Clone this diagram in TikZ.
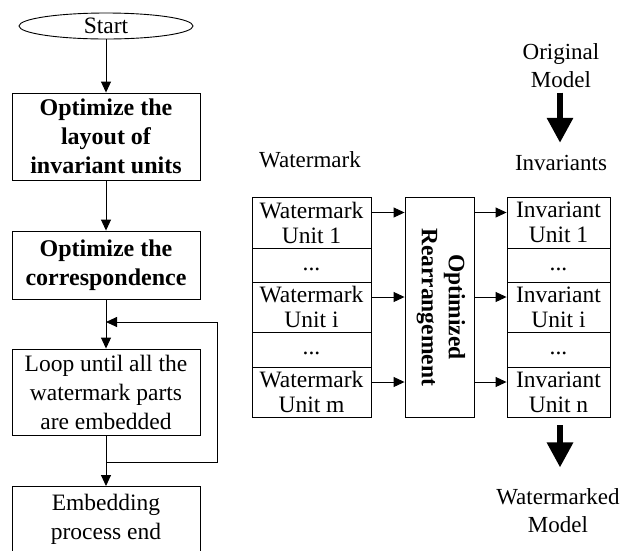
\documentclass[tikz,border=0pt]{standalone}
\usepackage{fontspec}
\setmainfont{Liberation Serif}
\usetikzlibrary{shapes.geometric,arrows.meta}
\begin{document}
\begin{tikzpicture}[x=1pt,y=-1pt,
  every node/.style={inner sep=0pt, font=\fontsize{23.5}{28.5}\selectfont},
  line width=0.9pt,
  arr/.style={-{Triangle[length=11pt,width=10pt]}},
  flowbox/.style={draw, minimum width=188pt, align=center},
  boldtext/.style={font=\fontsize{24}{29}\selectfont\bfseries},
  normtext/.style={font=\fontsize{23.5}{29}\selectfont},
  cell/.style={draw, align=center, font=\fontsize{23.5}{25}\selectfont},
  wcell/.style={cell, minimum width=119pt},
  icell/.style={cell, minimum width=103pt},
  bigarr/.style={line width=6pt, -{Triangle[length=25pt,width=25pt]}},
  lbl/.style={align=center, font=\fontsize{23}{28}\selectfont}
]
\useasboundingbox (0,0) rectangle (620,550);

% ---- left flowchart ----
\node[ellipse, draw, minimum width=174pt, minimum height=26pt] (start) at (106,26) {};
\node (starttext) at (start.center) {Start};

\node[flowbox, boldtext, minimum height=87pt] (b1) at (106,136.5) {Optimize the\\layout of\\invariant units};
\node[flowbox, boldtext, minimum height=68pt] (b2) at (106,265) {Optimize the\\correspondence};
\node[flowbox, normtext, minimum height=86pt] (b3) at (106,392) {Loop until all the\\watermark parts\\are embedded};
\node[flowbox, minimum height=90pt, anchor=north] (b4) at (106,486) {};
\node[align=center, normtext] (b4text) at (106,519) {Embedding\\process end};

\draw[arr] (start.south) -- (b1.north);
\draw[arr] (b1.south) -- (b2.north);
\draw[arr] (b2.south) -- (b3.north);
\coordinate (join) at (106,462);
\coordinate (loopR) at (217,462);
\coordinate (loopT) at (217,322);
\coordinate (loopIn) at (106,322);
\draw (b3.south) -- (join);
\draw[arr] (join) -- (b4.north);
\draw[arr] (join) -- (loopR) -- (loopT) -- (loopIn);

% ---- right diagram ----
\node[wcell, minimum height=51pt] (w1) at (311.5,222.5) {Watermark\\Unit 1};
\node[wcell, minimum height=34pt] (w2) at (311.5,265) {\strut...};
\node[wcell, minimum height=50pt] (w3) at (311.5,307) {Watermark\\Unit i};
\node[wcell, minimum height=35pt] (w4) at (311.5,349.5) {\strut...};
\node[wcell, minimum height=50pt] (w5) at (311.5,392) {Watermark\\Unit m};

\node[icell, minimum height=51pt] (v1) at (558.5,222.5) {Invariant\\Unit 1};
\node[icell, minimum height=34pt] (v2) at (558.5,265) {\strut...};
\node[icell, minimum height=50pt] (v3) at (558.5,307) {Invariant\\Unit i};
\node[icell, minimum height=35pt] (v4) at (558.5,349.5) {\strut...};
\node[icell, minimum height=50pt] (v5) at (558.5,392) {Invariant\\Unit n};

\node[draw, minimum width=69pt, minimum height=220pt] (opt) at (439.5,307) {};
\node[rotate=-90, align=center, font=\fontsize{23.5}{27}\selectfont\bfseries] (opttext) at (441,307) {Optimized\\Rearrangement};

\foreach \i in {1,3,5} {
  \coordinate (a\i) at ([yshift=10pt]w\i.east);
  \draw[arr] (a\i) -- (a\i -| opt.west);
  \draw[arr] (a\i -| opt.east) -- (a\i -| v\i.west);
}

\node[lbl] (wmlabel) at (310,160) {Watermark};
\node[lbl] (orig) at (561,66) {Original\\Model};
\node[lbl] (inv) at (561,163) {Invariants};
\node[lbl] (wmmodel) at (558,511) {Watermarked\\Model};

\draw[bigarr] ([yshift=-4pt,xshift=-1pt]orig.south) -- ([yshift=12pt,xshift=-1pt]inv.north);
\draw[bigarr] ([yshift=-8pt,xshift=1.5pt]v5.south) -- ([yshift=21pt,xshift=2pt]wmmodel.north);
\end{tikzpicture}
\end{document}
